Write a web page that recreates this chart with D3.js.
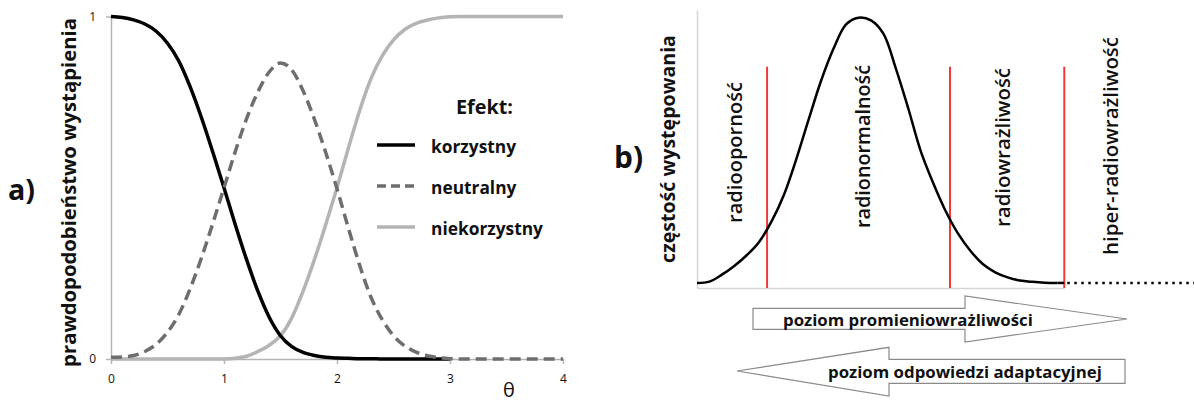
<!DOCTYPE html>
<html>
<head>
<meta charset="utf-8">
<script src="https://cdn.jsdelivr.net/npm/d3@7/dist/d3.min.js"></script>
<style>
  body { margin: 0; background: #fff; }
  svg { display: block; }
  text { font-family: "Open Sans", Lato, sans-serif; fill: #111; }
</style>
</head>
<body>
<svg id="chart" width="1194" height="403"></svg>
<script>
// ---- panel a: probability of each effect vs theta (step 0.1) ----
var thetaStep = 0.1;
var korzystny = [1.000, 0.997, 0.990, 0.978, 0.957, 0.922, 0.870, 0.795, 0.705, 0.605,
    0.500, 0.392, 0.290, 0.198, 0.122, 0.068, 0.036, 0.019, 0.010, 0.005,
    0.003, 0.002, 0.001, 0.001, 0, 0, 0, 0, 0, 0, 0];
var neutralny = [0.005, 0.006, 0.010, 0.022, 0.043, 0.078, 0.130, 0.205, 0.295, 0.395,
    0.500, 0.606, 0.702, 0.780, 0.838, 0.864, 0.844, 0.783, 0.700, 0.603,
    0.497, 0.383, 0.274, 0.181, 0.115, 0.068, 0.038, 0.020, 0.010, 0.004,
    0.001, 0, 0, 0, 0, 0, 0, 0, 0, 0, 0];
var niekorzystny = [0, 0, 0, 0, 0, 0, 0, 0, 0, 0,
    0, 0.002, 0.008, 0.022, 0.040, 0.068, 0.120, 0.198, 0.290, 0.392,
    0.500, 0.615, 0.725, 0.818, 0.885, 0.932, 0.962, 0.980, 0.990, 0.996,
    0.999, 1, 1, 1, 1, 1, 1, 1, 1, 1, 1];
var xTicksA = [0, 1, 2, 3, 4];
var yTicksA = [0, 1];
var legendLabels = ["korzystny", "neutralny", "niekorzystny"];

// ---- panel b: frequency vs radiosensitivity (step 0.25) ----
var sensStep = 0.25;
var frequency = [0.004, 0.009, 0.035, 0.068, 0.108, 0.158, 0.235, 0.335, 0.470, 0.620,
    0.765, 0.885, 0.975, 1.000, 0.990, 0.940, 0.810, 0.660, 0.500, 0.380,
    0.275, 0.190, 0.125, 0.075, 0.044, 0.025, 0.013, 0.008, 0.005, 0.004];
var thresholds = [1.41, 5.09, 7.39];
var regionLabels = ["radiooporność", "radionormalność", "radiowrażliwość", "hiper-radiowrażliwość"];
var regionCentres = [0.76, 3.32, 6.14, 8.31];

var svg = d3.select("#chart");

// scale a text's font so its drawn length is about `len` px
function fit(sel, len) {
    sel.each(function () {
        var fs = parseFloat(this.getAttribute("font-size"));
        var w = this.getComputedTextLength();
        if (w > 0) this.setAttribute("font-size", (fs * len / w).toFixed(2));
    });
    return sel;
}

// ================= panel a =================
var xA = d3.scaleLinear().domain([0, 4]).range([111, 563]);
var yA = d3.scaleLinear().domain([0, 1]).range([359, 16.5]);

var axisGrey = "#b4b4b4";

var gx = svg.append("g").attr("transform", "translate(0,359)")
    .call(d3.axisBottom(xA).tickValues(xTicksA).tickFormat(d3.format("d"))
        .tickSize(5).tickPadding(10).tickSizeOuter(0));
var gy = svg.append("g").attr("transform", "translate(111,0)")
    .call(d3.axisLeft(yA).tickValues(yTicksA).tickFormat(d3.format("d"))
        .tickSize(5).tickPadding(10).tickSizeOuter(0));
[gx, gy].forEach(function (g) {
    g.select(".domain").attr("stroke", axisGrey).attr("stroke-width", 1.5);
    g.selectAll(".tick line").attr("stroke", axisGrey).attr("stroke-width", 1.5);
    g.selectAll(".tick text").style("font-family", "'Open Sans', sans-serif")
        .attr("font-size", 12).attr("fill", "#444");
});

var lineA = function (arr) {
    return d3.line()
        .x(function (d, i) { return xA(i * thetaStep); })
        .y(function (d) { return yA(d); })
        .curve(d3.curveMonotoneX)(arr);
};

var seriesA = [
    { name: "niekorzystny", values: niekorzystny, color: "#b4b4b4", dash: null },
    { name: "korzystny", values: korzystny, color: "#000", dash: null },
    { name: "neutralny", values: neutralny, color: "#6e6e6e", dash: "11,6" }
];
svg.append("g").selectAll("path")
    .data(seriesA)
    .enter().append("path")
    .attr("d", function (d) { return lineA(d.values); })
    .attr("fill", "none")
    .attr("stroke", function (d) { return d.color; })
    .attr("stroke-width", 3.5)
    .attr("stroke-dasharray", function (d) { return d.dash; });

// legend
var legend = svg.append("g");
fit(legend.append("text").attr("x", 456).attr("y", 106)
    .attr("dominant-baseline", "central").attr("font-size", 18).attr("font-weight", "bold")
    .text("Efekt:"), 57);
var legendStyle = {
    korzystny: { color: "#000", dash: null },
    neutralny: { color: "#6e6e6e", dash: "9,5" },
    niekorzystny: { color: "#b4b4b4", dash: null }
};
var legendRows = legend.selectAll("g.row")
    .data(legendLabels)
    .enter().append("g").attr("class", "row")
    .attr("transform", function (d, i) { return "translate(0," + (145 + i * 41) + ")"; });
legendRows.append("line")
    .attr("x1", 377).attr("x2", 415)
    .attr("stroke", function (d) { return legendStyle[d].color; })
    .attr("stroke-width", 3.5)
    .attr("stroke-dasharray", function (d) { return legendStyle[d].dash; });
var legendText = legendRows.append("text")
    .attr("x", 431).attr("y", 1)
    .attr("dominant-baseline", "central")
    .attr("font-size", 17).attr("font-weight", "bold")
    .text(function (d) { return d; });
// same size for all rows, fitted on the longest one
fit(legendText.filter(function (d) { return d === "niekorzystny"; }), 112);
legendText.attr("font-size", legendText.filter(function (d) { return d === "niekorzystny"; }).attr("font-size"));

// axis titles, panel label
fit(svg.append("text").attr("transform", "translate(68,192.5) rotate(-90)")
    .attr("text-anchor", "middle").attr("dominant-baseline", "central")
    .attr("font-size", 20).attr("font-weight", "bold")
    .text("prawdopodobieństwo wystąpienia"), 349);
svg.append("text").attr("x", 509).attr("y", 389)
    .attr("text-anchor", "middle").attr("dominant-baseline", "central")
    .attr("font-size", 20).attr("fill", "#222").text("θ");
fit(svg.append("text").attr("x", 8).attr("y", 188)
    .attr("dominant-baseline", "central")
    .attr("font-size", 28).attr("font-weight", "bold").text("a)"), 27);

// ================= panel b =================
var xB = d3.scaleLinear().domain([0, 10]).range([697, 1194]);
var yB = d3.scaleLinear().domain([0, 1]).range([284, 17.7]);

var gyB = svg.append("g").attr("transform", "translate(697,0)")
    .call(d3.axisLeft(d3.scaleLinear().range([288, 10])).tickValues([]).tickSizeOuter(0));
var gxB = svg.append("g").attr("transform", "translate(0,288)")
    .call(d3.axisBottom(d3.scaleLinear().domain([0, thresholds[2]]).range([697, xB(thresholds[2])]))
        .tickValues([]).tickSizeOuter(0));
[gyB, gxB].forEach(function (g) {
    g.select(".domain").attr("stroke", "#d6d6d6").attr("stroke-width", 1.5);
});

// threshold lines
svg.append("g").selectAll("line")
    .data(thresholds)
    .enter().append("line")
    .attr("x1", function (d) { return xB(d); })
    .attr("x2", function (d) { return xB(d); })
    .attr("y1", 66.7).attr("y2", 288)
    .attr("stroke", "#f03a3a").attr("stroke-width", 2);

// frequency curve
var lastF = frequency[frequency.length - 1];
svg.append("path")
    .attr("d", d3.line()
        .x(function (d, i) { return xB(i * sensStep); })
        .y(function (d) { return yB(d); })
        .curve(d3.curveCatmullRom.alpha(0.5))(frequency))
    .attr("fill", "none").attr("stroke", "#000").attr("stroke-width", 2.5);
svg.append("line")
    .attr("x1", xB((frequency.length - 1) * sensStep)).attr("x2", xB(thresholds[2]))
    .attr("y1", yB(lastF)).attr("y2", yB(lastF))
    .attr("stroke", "#000").attr("stroke-width", 2.5);
// dotted continuation
svg.append("line")
    .attr("x1", xB(thresholds[2]) + 3).attr("x2", xB(10))
    .attr("y1", yB(lastF)).attr("y2", yB(lastF))
    .attr("stroke", "#000").attr("stroke-width", 2.5).attr("stroke-dasharray", "2.5,4.5");

// region labels
var regionLen = [141, 163, 159, 218];
var regionMid = [152.5, 146.5, 147.5, 146];
svg.append("g").selectAll("text")
    .data(regionLabels)
    .enter().append("text")
    .attr("transform", function (d, i) { return "translate(" + xB(regionCentres[i]) + "," + regionMid[i] + ") rotate(-90)"; })
    .attr("text-anchor", "middle").attr("dominant-baseline", "central")
    .attr("font-size", 18)
    .attr("font-weight", 600)
    .text(function (d) { return d; })
    .each(function (d, i) { fit(d3.select(this), regionLen[i]); });

fit(svg.append("text").attr("transform", "translate(667,149) rotate(-90)")
    .attr("text-anchor", "middle").attr("dominant-baseline", "central")
    .attr("font-size", 18).attr("font-weight", "bold")
    .text("częstość występowania"), 228);
fit(svg.append("text").attr("x", 614).attr("y", 156)
    .attr("dominant-baseline", "central")
    .attr("font-size", 30).attr("font-weight", "bold").text("b)"), 29);

// arrows
var arrows = [
    { label: "poziom promieniowrażliwości", tx: 783, ty: 319, len: 250,
      pts: [[753, 308.3], [965, 308.3], [965, 296], [1127, 319], [965, 342], [965, 329.3], [753, 329.3]] },
    { label: "poziom odpowiedzi adaptacyjnej", tx: 828, ty: 371, len: 274,
      pts: [[1125, 359.3], [889, 359.3], [889, 347.3], [737, 371], [889, 396], [889, 383.3], [1125, 383.3]] }
];
var ag = svg.append("g").selectAll("g").data(arrows).enter().append("g");
ag.append("path")
    .attr("d", function (d) { return d3.line()(d.pts) + "Z"; })
    .attr("fill", "#fff").attr("stroke", "#8a8a8a").attr("stroke-width", 1.2);
ag.append("text")
    .attr("x", function (d) { return d.tx; }).attr("y", function (d) { return d.ty; })
    .attr("dominant-baseline", "central")
    .attr("font-size", 16).attr("font-weight", "bold")
    .text(function (d) { return d.label; })
    .each(function (d) { fit(d3.select(this), d.len); });
</script>
</body>
</html>
